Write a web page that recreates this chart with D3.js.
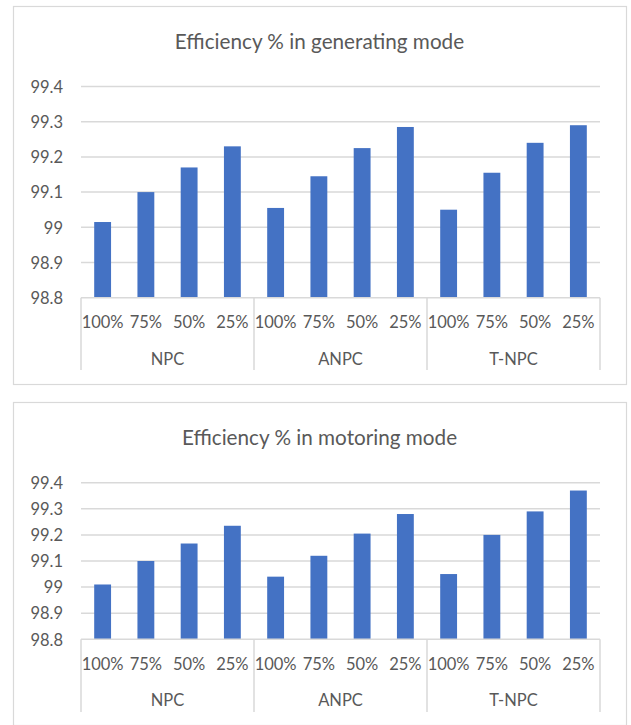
<!DOCTYPE html>
<html>
<head>
<meta charset="utf-8">
<script src="https://cdn.jsdelivr.net/npm/d3@7"></script>
<style>
  html, body { margin: 0; padding: 0; background: #ffffff; }
  svg { display: block; }
  text { font-family: Lato, "Open Sans", sans-serif; fill: #595959; }
</style>
</head>
<body>
<svg id="chart" width="631" height="725"></svg>
<script>
// Converter topologies and load levels
const groups = ["NPC", "ANPC", "T-NPC"];
const loads = ["100%", "75%", "50%", "25%"];

// Efficiency (%) per topology, in load order 100%, 75%, 50%, 25%
const generatingNPC = [99.015, 99.10, 99.17, 99.23];
const generatingANPC = [99.055, 99.145, 99.225, 99.285];
const generatingTNPC = [99.05, 99.155, 99.24, 99.29];

const motoringNPC = [99.01, 99.10, 99.167, 99.235];
const motoringANPC = [99.04, 99.12, 99.205, 99.28];
const motoringTNPC = [99.05, 99.20, 99.29, 99.37];

const yTicks = [98.8, 98.9, 99, 99.1, 99.2, 99.3, 99.4];
const yDomain = [98.8, 99.4];

const titles = ["Efficiency % in generating mode", "Efficiency % in motoring mode"];

function rows(seriesByGroup) {
  const out = [];
  groups.forEach((g, gi) => {
    loads.forEach((l, li) => {
      out.push({ group: g, load: l, key: g + "|" + l, value: seriesByGroup[gi][li] });
    });
  });
  return out;
}

const panels = [
  {
    title: titles[0],
    data: rows([generatingNPC, generatingANPC, generatingTNPC]),
    frame: { x: 13, y: 6, w: 613, h: 378 },
    titleY: 41, top: 86.5, bottom: 297.7, loadY: 322, groupY: 359, divEnd: 370
  },
  {
    title: titles[1],
    data: rows([motoringNPC, motoringANPC, motoringTNPC]),
    frame: { x: 13, y: 402, w: 613, h: 323 },
    titleY: 436.5, top: 482.7, bottom: 639.3, loadY: 664, groupY: 700, divEnd: 712
  }
];

const svg = d3.select("#chart");
const plotLeft = 81, plotRight = 600;

panels.forEach(p => {
  const g = svg.append("g");

  g.append("rect")
    .attr("x", p.frame.x + 0.5).attr("y", p.frame.y + 0.5)
    .attr("width", p.frame.w).attr("height", p.frame.h)
    .attr("fill", "#ffffff").attr("stroke", "#d9d9d9").attr("stroke-width", 1.2);

  g.append("text")
    .attr("x", p.frame.x + p.frame.w / 2)
    .attr("y", p.titleY)
    .attr("text-anchor", "middle")
    .attr("dominant-baseline", "central")
    .style("font-size", "20.7px")
    .text(p.title);

  const x = d3.scaleBand()
    .domain(p.data.map(d => d.key))
    .range([plotLeft, plotRight])
    .paddingInner(0.61)
    .paddingOuter(0.305);

  const xGroup = d3.scaleBand()
    .domain(groups)
    .range([plotLeft, plotRight])
    .padding(0);

  const y = d3.scaleLinear().domain(yDomain).range([p.bottom, p.top]);

  // Horizontal gridlines
  g.append("g").selectAll("line")
    .data(yTicks.slice(1))
    .join("line")
    .attr("x1", plotLeft).attr("x2", plotRight)
    .attr("y1", d => y(d)).attr("y2", d => y(d))
    .attr("stroke", "#d9d9d9").attr("stroke-width", 1.5);

  // Value axis labels
  const yAxis = d3.axisLeft(y).tickValues(yTicks).tickSize(0).tickPadding(0)
    .tickFormat(d3.format("~r"));
  const ya = g.append("g").attr("transform", `translate(63,0)`).call(yAxis);
  ya.select(".domain").remove();
  ya.selectAll("text")
    .attr("fill", "#595959")
    .style("font-family", "Lato, 'Open Sans', sans-serif")
    .style("font-size", "16.5px")
    .attr("dy", "0.35em");

  // Bars
  g.append("g").selectAll("rect")
    .data(p.data)
    .join("rect")
    .attr("x", d => x(d.key))
    .attr("width", x.bandwidth())
    .attr("y", d => y(d.value))
    .attr("height", d => y(yDomain[0]) - y(d.value))
    .attr("fill", "#4472c4");

  // Category axis: baseline and group dividers
  g.append("line")
    .attr("x1", plotLeft).attr("x2", plotRight)
    .attr("y1", p.bottom).attr("y2", p.bottom)
    .attr("stroke", "#d9d9d9").attr("stroke-width", 1.5);

  const dividers = groups.map(gr => xGroup(gr)).concat([plotRight]);
  g.append("g").selectAll("line")
    .data(dividers)
    .join("line")
    .attr("x1", d => d).attr("x2", d => d)
    .attr("y1", p.bottom).attr("y2", p.divEnd)
    .attr("stroke", "#d9d9d9").attr("stroke-width", 1.5);

  // Load labels
  g.append("g").selectAll("text")
    .data(p.data)
    .join("text")
    .attr("x", d => x(d.key) + x.bandwidth() / 2)
    .attr("y", p.loadY)
    .attr("text-anchor", "middle")
    .attr("dominant-baseline", "central")
    .style("font-size", "16.5px")
    .text(d => d.load);

  // Topology labels
  g.append("g").selectAll("text")
    .data(groups)
    .join("text")
    .attr("x", d => xGroup(d) + xGroup.bandwidth() / 2)
    .attr("y", p.groupY)
    .attr("text-anchor", "middle")
    .attr("dominant-baseline", "central")
    .style("font-size", "16.5px")
    .text(d => d);
});
</script>
</body>
</html>
